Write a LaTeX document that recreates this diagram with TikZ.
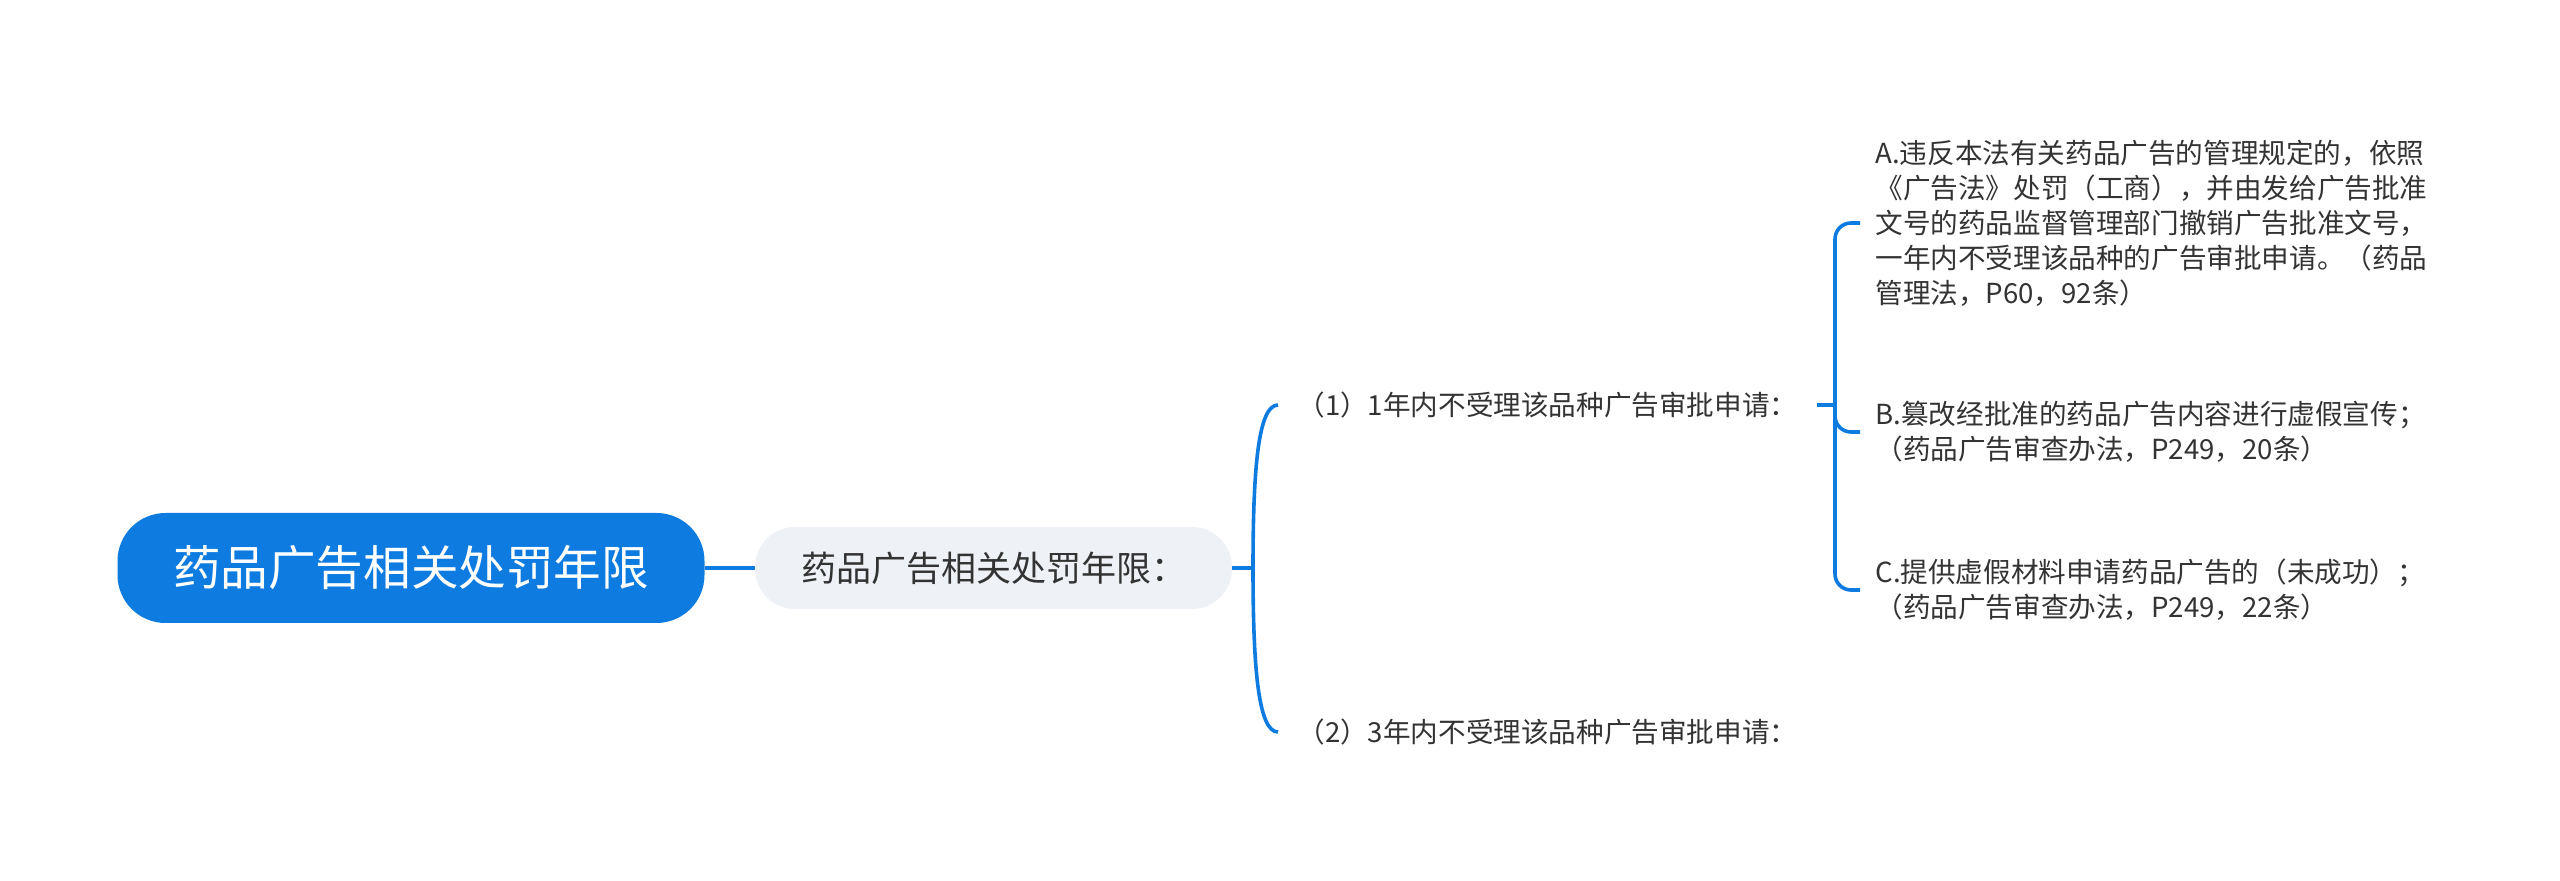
\documentclass[tikz,border=0pt]{standalone}
\usepackage{fontspec}
\setmainfont{Noto Sans CJK SC}
\usepackage{xcolor}
\usepackage{tikz}
\usetikzlibrary{calc}
\definecolor{mapblue}{HTML}{0D7BE0}
\definecolor{subgray}{HTML}{EEF1F5}
\definecolor{txtgray}{HTML}{333333}
\tikzset{
    rootnode/.style={fill=mapblue, rounded corners=24pt, inner sep=0pt, minimum width=293.5pt, minimum height=55pt, text=white, font=\fontsize{23.8}{28}\selectfont},
    subnode/.style={fill=subgray, rounded corners=20pt, inner sep=0pt, minimum width=238.5pt, minimum height=41pt, text=txtgray, font=\fontsize{17.5}{21}\selectfont},
    leaf/.style={anchor=west, align=left, inner xsep=9.5pt, inner ysep=0pt, text=txtgray, font=\fontsize{13.8}{17.5}\selectfont},
    conn/.style={draw=mapblue, line width=1.8pt}}

\begin{document}
\begin{tikzpicture}[x=0.5pt,y=-0.5pt]
\useasboundingbox (0,0) rectangle (2560,881);

\node[rootnode] (root) at (411,568) {药品广告相关处罚年限};
\node[subnode] (sub) at (993.5,568) {药品广告相关处罚年限：};
\draw[conn] (root.east) -- (sub.west);

% first bracket
\coordinate (j1) at (1253,568) ;
\node[leaf] (c1) at (1278,405) {（1）1年内不受理该品种广告审批申请：};
\node[leaf] (c2) at (1278,732) {（2）3年内不受理该品种广告审批申请：};
\draw[conn] (sub.east) -- (j1);
\draw[conn] (j1) .. controls +(0,-98) and +(-20,0) .. (c1.west);
\draw[conn] (j1) .. controls +(0,98) and +(-20,0) .. (c2.west);

% second bracket
\coordinate (j2) at (1835,405) ;
\node[leaf, inner xsep=7.5pt] (la) at (1860,223) {A.违反本法有关药品广告的管理规定的，依照\\《广告法》处罚（工商），并由发给广告批准\\文号的药品监督管理部门撤销广告批准文号，\\一年内不受理该品种的广告审批申请。（药品\\管理法，P60，92条）};
\node[leaf, inner xsep=7.5pt] (lb) at (1860,432) {B.篡改经批准的药品广告内容进行虚假宣传；\\（药品广告审查办法，P249，20条）};
\node[leaf, inner xsep=7.5pt] (lc) at (1860,590) {C.提供虚假材料申请药品广告的（未成功）；\\（药品广告审查办法，P249，22条）};
\draw[conn] (c1.east) -- (j2);
\draw[conn, rounded corners=8pt] (la.west) -| (j2) |- (lc.west);
\draw[conn, rounded corners=8pt] (j2) |- (lb.west);
\end{tikzpicture}
\end{document}
